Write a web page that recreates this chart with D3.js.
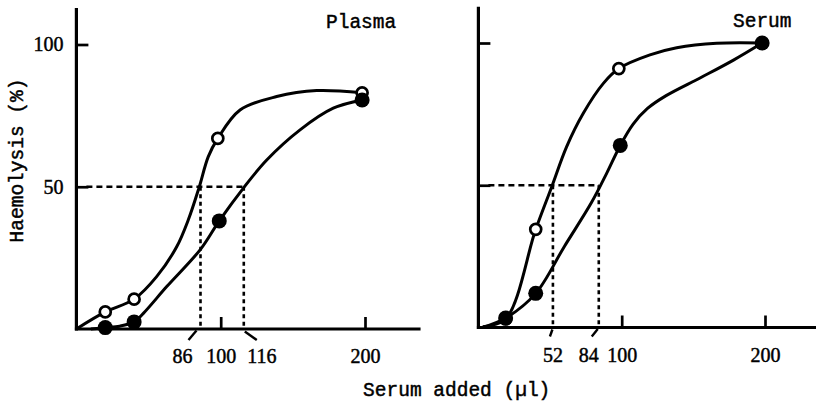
<!DOCTYPE html>
<html>
<head>
<meta charset="utf-8">
<script src="https://cdn.jsdelivr.net/npm/d3@7"></script>
<style>
  body { margin: 0; background: #fff; }
  text { fill: black; stroke: black; stroke-width: 0.45px; }
</style>
</head>
<body>
<div id="wrapper"></div>
<script>
// Data (serum added in µl, haemolysis in %)
const panelNames = ["Plasma", "Serum"];

const plasmaOpen = [[20, 6], [40, 10.5], [98, 67], [198, 83]];
const plasmaFilled = [[20, 0.5], [40, 2.5], [99, 38], [198, 80.5]];
const serumOpen = [[19, 3], [40, 34.5], [98, 91], [198, 100]];
const serumFilled = [[19, 3.3], [40, 12], [99, 64], [198, 100]];

// the hand drawn curves
const plasmaOpenCurve = [[0, 0], [20, 6], [40, 10.5], [55.6, 18.4], [69.5, 28.9], [77.5, 38.3],
  [85, 49.7], [91.4, 60.6], [98, 67], [113.4, 77], [138.8, 81.7], [166.5, 83.8], [198, 83]];
const plasmaFilledCurve = [[10, 0], [20, 0.5], [30, 1], [40, 2.5], [46.4, 5.5], [62.6, 14.9],
  [86, 28], [99, 38], [116, 49.7], [131.9, 59.4], [155, 70], [178, 77.6], [198, 80.5]];
const serumOpenCurve = [[3, 0.3], [19, 3], [40, 34.5], [51.2, 49.5], [61.6, 63.6], [73.2, 75.3],
  [87.2, 85.8], [98, 91], [119.7, 95.8], [138.4, 98.3], [166.3, 99.9], [198, 100]];
const serumFilledCurve = [[3, 0], [19, 3.3], [40, 12], [60, 28.5], [79, 44], [89.5, 54.2],
  [99, 64], [108, 71.5], [118, 77], [131, 81.5], [155, 87.8], [178, 94], [198, 100]];

const yTicks = [50, 100];
const xTicks = [100, 200];
const plasmaHalf = [86, 116];
const serumHalf = [52, 84];

function drawChart() {
  const width = 816;
  const height = 406;

  const wrapper = d3
    .select("#wrapper")
    .append("svg")
    .attr("width", width)
    .attr("height", height);

  // panel geometry
  const panels = [
    {
      name: panelNames[0],
      open: plasmaOpen, filled: plasmaFilled,
      openCurve: plasmaOpenCurve, filledCurve: plasmaFilledCurve,
      half: plasmaHalf,
      xRange: [76.4, 365], yRange: [329, 44.5],
      axisEnd: 238.5, axisTop: 112.8,
      showYLabels: true,
      nameX: 326, nameY: 28,
      halfStyle: [
        { dx: -18, slash: [-12, 11, -4, 1.5] },
        { dx: 18, slash: [1, 2.5, 13, 11] },
      ],
    },
    {
      name: panelNames[1],
      open: serumOpen, filled: serumFilled,
      openCurve: serumOpenCurve, filledCurve: serumFilledCurve,
      half: serumHalf,
      xRange: [478.4, 765], yRange: [327.5, 43],
      axisEnd: 236, axisTop: 112.7,
      showYLabels: false,
      nameX: 733, nameY: 27,
      halfStyle: [
        { dx: 0, slash: [-3, 9, -0.5, 2] },
        { dx: -10, slash: [-7, 9, -1, 1.5] },
      ],
    },
  ];

  panels.forEach((p) => {
    const xScale = d3.scaleLinear().domain([0, 200]).range(p.xRange);
    const yScale = d3.scaleLinear().domain([0, 100]).range(p.yRange);
    const g = wrapper.append("g");

    // Axes lines
    g.append("line")
      .attr("x1", xScale(0)).attr("x2", xScale(0))
      .attr("y1", yScale(0) + 1.5).attr("y2", yScale(p.axisTop))
      .attr("stroke", "black").attr("stroke-width", 3.2);
    g.append("line")
      .attr("x1", xScale(0) - 1.5).attr("x2", xScale(p.axisEnd))
      .attr("y1", yScale(0)).attr("y2", yScale(0))
      .attr("stroke", "black").attr("stroke-width", 3.2);

    const yAxis = g.append("g")
      .attr("transform", `translate(${xScale(0)},0)`)
      .call(
        d3.axisLeft(yScale)
          .tickValues(yTicks)
          .tickSizeInner(-12)
          .tickSizeOuter(0)
          .tickPadding(13)
          .tickFormat(p.showYLabels ? d3.format("d") : "")
      );
    yAxis.select(".domain").remove();
    yAxis.selectAll("line").attr("stroke", "black").attr("stroke-width", 2.7);
    yAxis.selectAll("text")
      .style("font-family", "'Liberation Serif', serif")
      .style("font-size", "20px");

    const xAxis = g.append("g")
      .attr("transform", `translate(0,${yScale(0)})`)
      .call(
        d3.axisBottom(xScale)
          .tickValues(xTicks)
          .tickSizeInner(-12)
          .tickSizeOuter(0)
          .tickPadding(20)
          .tickFormat(d3.format("d"))
      );
    xAxis.select(".domain").remove();
    xAxis.selectAll("line").attr("stroke", "black").attr("stroke-width", 2.7);
    xAxis.selectAll("text")
      .style("font-family", "'Liberation Serif', serif")
      .style("font-size", "20px");

    // 50 % reference lines
    g.append("line")
      .attr("x1", xScale(0) + 10).attr("x2", xScale(d3.max(p.half)))
      .attr("y1", yScale(50)).attr("y2", yScale(50))
      .attr("stroke", "black").attr("stroke-width", 2.6)
      .style("stroke-dasharray", "6 4");

    p.half.forEach((v, i) => {
      const s = p.halfStyle[i];
      g.append("line")
        .attr("x1", xScale(v)).attr("x2", xScale(v))
        .attr("y1", yScale(50)).attr("y2", yScale(0))
        .attr("stroke", "black").attr("stroke-width", 2.6)
        .style("stroke-dasharray", "4 3.5");
      g.append("line")
        .attr("x1", xScale(v) + s.slash[0]).attr("y1", yScale(0) + s.slash[1])
        .attr("x2", xScale(v) + s.slash[2]).attr("y2", yScale(0) + s.slash[3])
        .attr("stroke", "black").attr("stroke-width", 2.4);
      g.append("text")
        .attr("x", xScale(v) + s.dx)
        .attr("y", yScale(0) + 20)
        .attr("dy", "0.71em")
        .text(v)
        .style("font-family", "'Liberation Serif', serif")
        .style("font-size", "20px")
        .style("text-anchor", "middle");
    });

    // Curves
    const lineGenerator = d3.line()
      .x((d) => xScale(d[0]))
      .y((d) => yScale(d[1]))
      .curve(d3.curveCatmullRom.alpha(0.5));

    [p.openCurve, p.filledCurve].forEach((c) => {
      g.append("path")
        .attr("d", lineGenerator(c))
        .attr("fill", "none")
        .attr("stroke", "black")
        .attr("stroke-width", 3)
        .attr("stroke-linejoin", "round");
    });

    // Points
    g.selectAll(".open")
      .data(p.open)
      .enter()
      .append("circle")
      .attr("class", "open")
      .attr("cx", (d) => xScale(d[0]))
      .attr("cy", (d) => yScale(d[1]))
      .attr("r", 5.5)
      .attr("fill", "white")
      .attr("stroke", "black")
      .attr("stroke-width", 2.7);

    g.selectAll(".filled")
      .data(p.filled)
      .enter()
      .append("circle")
      .attr("class", "filled")
      .attr("cx", (d) => xScale(d[0]))
      .attr("cy", (d) => yScale(d[1]))
      .attr("r", 7.5)
      .attr("fill", "black");

    // Panel name
    g.append("text")
      .attr("x", p.nameX)
      .attr("y", p.nameY)
      .text(p.name)
      .style("font-family", "'Liberation Mono', monospace")
      .style("font-size", "19.5px");
  });

  // Axis titles
  wrapper.append("text")
    .attr("transform", "translate(23,160.5) rotate(-90)")
    .text("Haemolysis (%)")
    .style("font-family", "'Liberation Mono', monospace")
    .style("font-size", "19.5px")
    .style("text-anchor", "middle");

  wrapper.append("text")
    .attr("x", 456.7)
    .attr("y", 396)
    .text("Serum added (µl)")
    .style("font-family", "'Liberation Mono', monospace")
    .style("font-size", "19.5px")
    .style("text-anchor", "middle");
}

drawChart();
</script>
</body>
</html>
